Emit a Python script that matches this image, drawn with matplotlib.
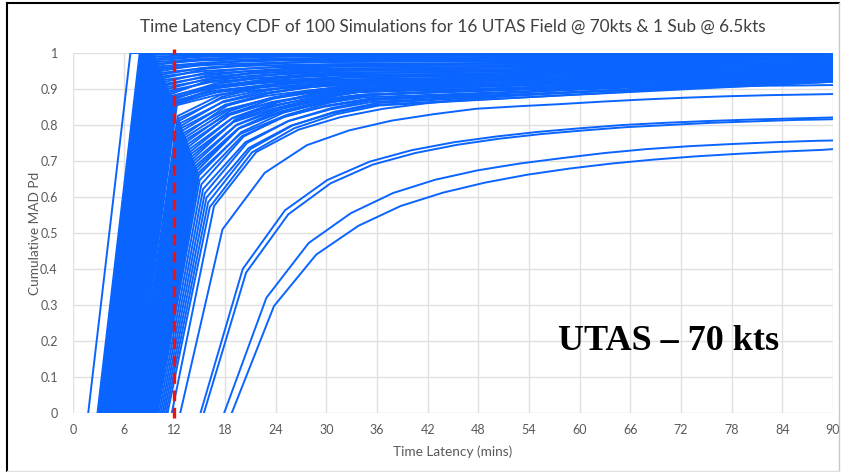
import matplotlib.pyplot as plt
from matplotlib.lines import Line2D

STEP = 5.0      # minutes between samples of a run
END_TIME = 90   # every run is carried out to the end of the window
THRESHOLD = 12  # latency requirement (mins)

# runs that are already at Pd = 1 on their first sample
fast_starts = [1.8, 2.9, 3.0, 3.1, 3.2, 3.3, 3.4, 3.5, 3.6, 3.7, 3.8, 3.9, 4.0,
               4.0, 4.1, 4.2, 4.2, 4.3, 4.3, 4.4, 4.4, 4.5, 4.5, 4.6, 4.6, 4.7]

# (start time, Pd sampled every STEP mins, Pd at END_TIME)
upper_runs = [
    (4.6, [0, .995, .997, .998, .999, .999], 1.0),
    (4.7, [0, .990, .994, .996, .997, .998], 1.0),
    (4.8, [0, .985, .991, .993, .994, .995], .998),
    (4.9, [0, .980, .989, .992, .995, .996], 1.0),
    (5.0, [0, .975, .984, .987, .990, .991], .995),
    (5.0, [0, .970, .979, .982, .985, .986], .990),
    (5.1, [0, .968, .982, .988, .991, .994], 1.0),
    (5.2, [0, .963, .972, .977, .979, .981], .985),
    (5.3, [0, .958, .972, .978, .981, .984], .990),
    (5.3, [0, .955, .966, .971, .973, .975], .980),
    (5.4, [0, .950, .969, .978, .983, .986], .995),
    (5.5, [0, .945, .958, .964, .967, .969], .975),
    (5.5, [0, .940, .959, .968, .973, .976], .985),
    (5.6, [0, .935, .950, .957, .961, .963], .970),
    (5.7, [0, .930, .956, .967, .974, .978], .990),
    (5.8, [0, .925, .942, .950, .954, .957], .965),
    (5.9, [0, .920, .946, .957, .964, .968], .980),
    (6.0, [0, .915, .934, .943, .948, .951], .960),
    (6.0, [0, .910, .938, .950, .957, .962], .975),
    (6.1, [0, .905, .927, .936, .942, .945], .955),
    (6.2, [0, .900, .930, .943, .951, .956], .970),
    (6.3, [0, .895, .919, .929, .935, .939], .950),
    (6.4, [0, .890, .922, .937, .945, .950], .965),
    (6.5, [0, .885, .928, .947, .958, .965], .985),
    (6.5, [0, .880, .908, .920, .927, .932], .945),
    (6.6, [0, .878, .913, .929, .938, .944], .960),
    (6.7, [0, .875, .903, .915, .922, .927], .940),
    (6.8, [0, .872, .908, .923, .933, .938], .955),
    (6.9, [0, .870, .915, .935, .947, .954], .975),
    (7.0, [0, .867, .896, .909, .917, .921], .935),
    (7.0, [0, .865, .902, .918, .927, .933], .950),
    (7.1, [0, .862, .891, .904, .912, .916], .930),
    (7.2, [0, .860, .905, .925, .937, .944], .965),
    (7.2, [0, .858, .893, .909, .918, .924], .940),
    (7.3, [0, .855, .885, .898, .906, .911], .925),
]

mid_runs = [
    (7.4, [0, .825, .883, .909, .924, .933], .960),
    (7.5, [0, .818, .873, .897, .911, .920], .945),
    (7.6, [0, .812, .878, .907, .924, .934], .965),
    (7.7, [0, .805, .863, .889, .904, .913], .940),
    (7.8, [0, .798, .866, .895, .913, .924], .955),
    (7.9, [0, .792, .853, .881, .896, .906], .935),
    (8.0, [0, .785, .856, .887, .905, .917], .950),
    (8.1, [0, .778, .843, .872, .889, .900], .930),
    (8.2, [0, .772, .853, .889, .909, .922], .960),
    (8.3, [0, .766, .841, .874, .893, .905], .940),
    (8.4, [0, .760, .831, .862, .880, .892], .925),
    (8.5, [0, .754, .838, .876, .897, .911], .950),
    (8.6, [0, .747, .828, .864, .884, .897], .935),
    (8.7, [0, .740, .832, .873, .897, .912], .955),
    (8.8, [0, .733, .818, .855, .877, .891], .930),
    (8.9, [0, .726, .820, .862, .886, .901], .945),
    (9.0, [0, .720, .808, .847, .870, .884], .925),
    (9.1, [0, .713, .811, .854, .879, .895], .940),
    (9.2, [0, .706, .815, .863, .891, .909], .960),
    (9.3, [0, .700, .799, .843, .868, .884], .930),
    (9.4, [0, .693, .801, .849, .877, .895], .945),
    (9.5, [0, .686, .789, .834, .860, .877], .925),
    (9.6, [0, .680, .790, .838, .866, .884], .935),
    (9.7, [0, .673, .792, .845, .875, .895], .950),
    (9.8, [0, .666, .775, .823, .851, .869], .920),
    (9.9, [0, .660, .780, .834, .864, .884], .940),
    (10.0, [0, .647, .769, .822, .854, .873], .930),
    (10.2, [0, .635, .768, .827, .861, .883], .945),
    (10.4, [0, .622, .752, .810, .843, .864], .925),
    (10.6, [0, .610, .750, .812, .847, .870], .935),
    (10.8, [0, .598, .736, .798, .833, .856], .920),
    (11.0, [0, .585, .733, .799, .837, .861], .930),
    (11.2, [0, .572, .724, .791, .830, .854], .925),
]

slow_runs = [
    (11.7, [0, .575, .725, .787, .822, .845, .860, .872, .881, .888, .894,
            .899, .903, .906, .909, .910], .911),
    (12.7, [0, .510, .667, .744, .785, .812, .830, .845, .852, .858, .865,
            .871, .876, .880, .883, .885], .886),
    (15.1, [0, .400, .563, .647, .698, .730, .752, .768, .781, .791, .800,
            .806, .811, .815, .818], .821),
    (15.5, [0, .390, .552, .638, .690, .722, .745, .762, .775, .785, .794,
            .800, .806, .810, .814], .816),
    (17.9, [0, .320, .472, .555, .611, .648, .674, .693, .708, .722, .733,
            .741, .747, .752, .756], .757),
    (18.8, [0, .297, .440, .520, .575, .612, .640, .662, .679, .693, .704,
            .713, .720, .726, .731], .733),
]

x_ticks = list(range(0, 91, 6))
y_ticks = [round(0.1 * i, 1) for i in range(11)]
y_tick_labels = ['0', '0.1', '0.2', '0.3', '0.4', '0.5', '0.6', '0.7', '0.8', '0.9', '1']

BLUE = '#0a64ff'
GRID = '#e0e0e0'
TEXT = '#595959'

plt.rcParams['font.family'] = ['Lato', 'DejaVu Sans']

fig = plt.figure(figsize=(8.44, 4.72), dpi=100)
ax = fig.add_axes([73 / 844, 1 - 413 / 472, 760 / 844, 360 / 472])

for s in fast_starts:
    ax.plot([s, s + STEP, END_TIME], [0, 1, 1], color=BLUE, lw=1.4, zorder=2)

for start, ys, final in upper_runs + mid_runs + slow_runs:
    xs = [start + STEP * i for i in range(len(ys))] + [END_TIME]
    ax.plot(xs, ys + [final], color=BLUE, lw=1.4, zorder=2)

ax.plot([THRESHOLD, THRESHOLD], [-0.015, 1.012], color='#ee1111', lw=2.4,
        ls=(0, (3.2, 2.0)), zorder=4, clip_on=False)

ax.set_xlim(0, 90)
ax.set_ylim(0, 1)
ax.set_xticks(x_ticks)
ax.set_yticks(y_ticks)
ax.set_yticklabels(y_tick_labels)
ax.tick_params(length=0, labelsize=9, labelcolor=TEXT)
ax.tick_params(axis='y', pad=11)
ax.tick_params(axis='x', pad=8)
ax.grid(True, color=GRID, lw=1)
ax.set_axisbelow(True)
for sp in ax.spines.values():
    sp.set_visible(False)

ax.set_title('Time Latency CDF of 100 Simulations for 16 UTAS Field @ 70kts & 1 Sub @ 6.5kts',
             fontsize=12.4, color='#404040', pad=15)
ax.set_xlabel('Time Latency (mins)', fontsize=9.8, color=TEXT, labelpad=7)
ax.set_ylabel('Cumulative MAD Pd', fontsize=9.8, color=TEXT, va='center')
ax.yaxis.set_label_coords(-38 / 760, 0.5)

fig.text(669 / 844, 1 - 342 / 472, 'UTAS \u2013 70 kts', ha='center', va='center',
         fontsize=26, fontweight='bold', family='Liberation Serif', color='black')

# slide frame
fig.add_artist(Line2D([7 / 844, 7 / 844], [0, 1 - 3 / 472], color='black', lw=1.5))
fig.add_artist(Line2D([7 / 844, 839 / 844], [1 - 3 / 472, 1 - 3 / 472], color='black', lw=1.5))
fig.add_artist(Line2D([839 / 844, 839 / 844], [1 / 472, 1 - 3 / 472], color='#c8c8c8', lw=1))
fig.add_artist(Line2D([7 / 844, 839 / 844], [1 / 472, 1 / 472], color='#e0e0e0', lw=1))

fig.savefig('out.png', dpi=100)
